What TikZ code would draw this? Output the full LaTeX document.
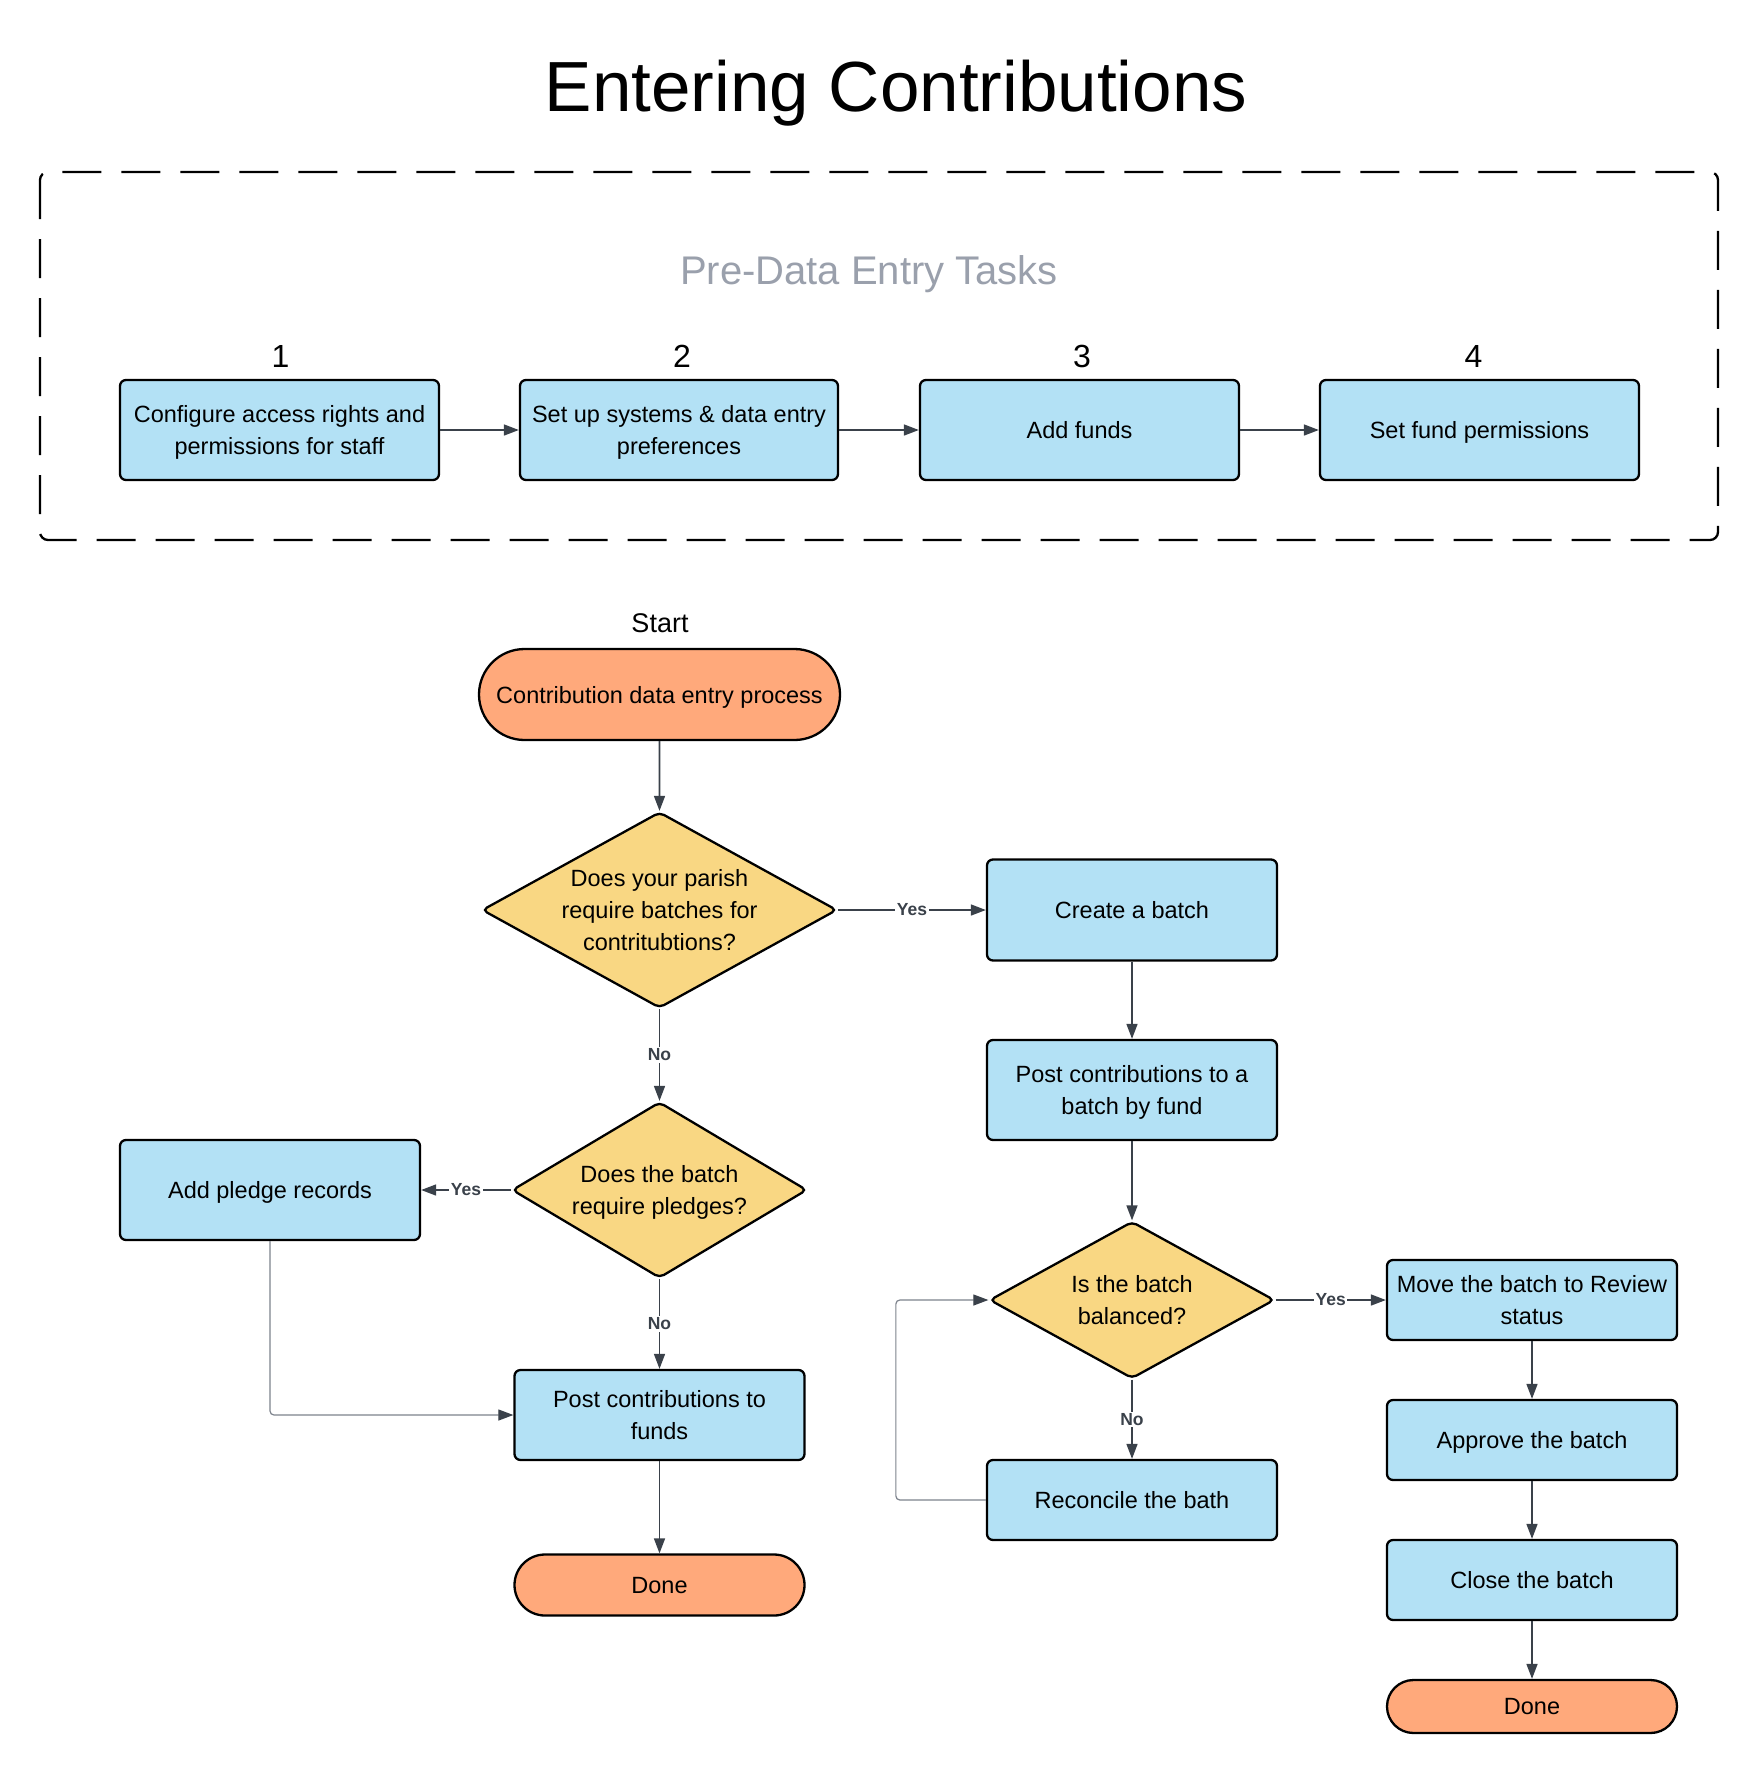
\documentclass[tikz,border=0pt]{standalone}
\usepackage{fontspec}
\setmainfont{Liberation Sans}
\usetikzlibrary{shapes.geometric,shapes.misc,arrows.meta}
\definecolor{boxblue}{HTML}{B3E1F5}
\definecolor{decyellow}{HTML}{F9D783}
\definecolor{termorange}{HTML}{FFA97B}
\definecolor{linegray}{HTML}{3A414A}
\definecolor{loopgray}{HTML}{7D838C}
\definecolor{subgray}{HTML}{9AA0AC}
\begin{document}
\begin{tikzpicture}[x=1pt,y=-1pt,
  txt/.style={font=\fontsize{23.5}{32}\selectfont, align=center, text=black, text depth=0pt},
  proc/.style={txt, rectangle, rounded corners=6, draw=black, line width=2.3, fill=boxblue, inner sep=0},
  term/.style={txt, rounded rectangle, draw=black, line width=2.3, fill=termorange, inner sep=0},
  dec/.style={diamond, draw=black, line width=2.3, fill=decyellow, rounded corners=5, inner sep=0},
  conn/.style={draw=linegray, line width=1.6, -{Triangle[length=15,width=11]}},
  lconn/.style={draw=loopgray, line width=1.2, rounded corners=4, -{Triangle[length=15,width=11,color=linegray]}},
  lbl/.style={font=\fontsize{17.5}{17.5}\selectfont\bfseries, text=linegray, fill=white, inner sep=1.5},
  numlbl/.style={font=\fontsize{32}{32}\selectfont, anchor=base},
]
\useasboundingbox (0,0) rectangle (1760,1773);

% title
\node[font=\fontsize{71}{71}\selectfont, anchor=base] (title) at (896,111) {Entering Contributions};

% pre-data entry frame
\draw[line width=2.3, dash pattern=on 39 off 20, rounded corners=8] (40,172) rectangle (1718,540);
\node[font=\fontsize{40}{40}\selectfont, text=subgray, anchor=base] (pre) at (869,284) {Pre-Data Entry Tasks};

\node[numlbl] (n1) at (280.6,367) {1};
\node[numlbl] (n2) at (682,367) {2};
\node[numlbl] (n3) at (1082,367) {3};
\node[numlbl] (n4) at (1473.6,367) {4};

\node[proc, minimum width=319, minimum height=100] (b1) at (279.5,430) {Configure access rights and\\permissions for staff};
\node[proc, minimum width=318, minimum height=100] (b2) at (679,430) {Set up systems \& data entry\\preferences};
\node[proc, minimum width=319, minimum height=100] (b3) at (1079.5,430) {Add funds};
\node[proc, minimum width=319, minimum height=100] (b4) at (1479.5,430) {Set fund permissions};

\draw[conn] (b1) -- (b2);
\draw[conn] (b2) -- (b3);
\draw[conn] (b3) -- (b4);

% main flow
\node[font=\fontsize{27}{27}\selectfont, anchor=base] (startlbl) at (660,632) {Start};
\node[term, minimum width=361, minimum height=91] (start) at (659.5,694.5) {Contribution data entry process};

\node[dec, minimum width=355, minimum height=196] (d1) at (659.5,910) {};
\node[txt] (d1t) at (d1) {Does your parish\\require batches for\\contritubtions?};

\node[proc, minimum width=290, minimum height=101] (cb) at (1132,910) {Create a batch};
\node[proc, minimum width=290, minimum height=100] (pb) at (1132,1090) {Post contributions to a\\batch by fund};

\node[dec, minimum width=285, minimum height=157] (d3) at (1132,1300) {};
\node[txt] (d3t) at (d3) {Is the batch\\balanced?};

\node[proc, minimum width=290, minimum height=80] (rc) at (1132,1500) {Reconcile the bath};
\node[proc, minimum width=290, minimum height=80] (mv) at (1532,1300) {Move the batch to Review\\status};
\node[proc, minimum width=290, minimum height=80] (apr) at (1532,1440) {Approve the batch};
\node[proc, minimum width=290, minimum height=80] (cl) at (1532,1580) {Close the batch};
\node[term, minimum width=290, minimum height=53] (done2) at (1532,1706.5) {Done};

\node[dec, minimum width=295, minimum height=176] (d2) at (659.5,1190) {};
\node[txt] (d2t) at (d2) {Does the batch\\require pledges?};

\node[proc, minimum width=300, minimum height=100] (ap) at (270,1190) {Add pledge records};
\node[proc, minimum width=290, minimum height=90] (pf) at (659.5,1415) {Post contributions to\\funds};
\node[term, minimum width=290, minimum height=61] (done1) at (659.5,1585) {Done};

% connectors
\draw[conn] (start) -- (d1);
\draw[conn] (d1) -- node[lbl]{Yes} (cb);
\draw[conn] (d1) -- node[lbl]{No} (d2);
\draw[conn] (d2) -- node[lbl]{Yes} (ap);
\draw[conn] (d2) -- node[lbl]{No} (pf);
\draw[lconn] (ap.south) |- (pf.west);
\draw[conn] (pf) -- (done1);

\draw[conn] (cb) -- (pb);
\draw[conn] (pb) -- (d3);
\draw[conn] (d3) -- node[lbl]{Yes} (mv);
\draw[conn] (d3) -- node[lbl]{No} (rc);
\draw[lconn] (rc.west) -- ++(-90,0) |- (d3.west);
\draw[conn] (mv) -- (apr);
\draw[conn] (apr) -- (cl);
\draw[conn] (cl) -- (done2);
\end{tikzpicture}
\end{document}
